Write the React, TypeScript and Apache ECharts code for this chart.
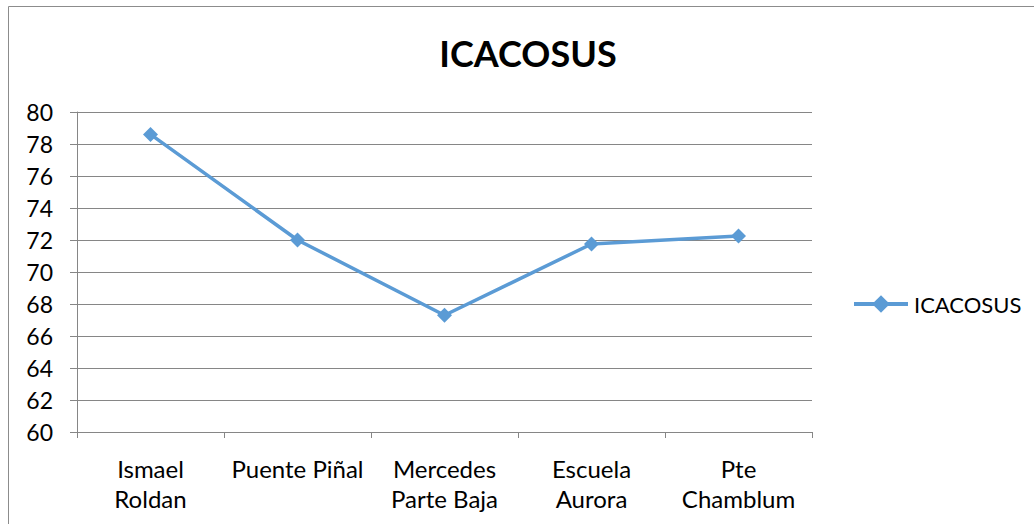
import React, { useEffect, useRef } from "react";
import * as echarts from "echarts";

const categories = ["Ismael\nRoldan", "Puente Piñal", "Mercedes\nParte Baja", "Escuela\nAurora", "Pte\nChamblum"];
const seriesName = "ICACOSUS";
const values = [78.6, 72.0, 67.3, 71.75, 72.25];
const yTicks = { min: 60, max: 80, interval: 2 };

const FONT = "Lato, 'Open Sans', sans-serif";

export default function App() {
  const ref = useRef<HTMLDivElement>(null);
  useEffect(() => {
    const chart = echarts.init(ref.current!, null, { renderer: "svg" });
    chart.setOption({
      animation: false,
      backgroundColor: "#ffffff",
      title: {
        text: "ICACOSUS",
        left: 528,
        textAlign: "center",
        top: 35,
        padding: 0,
        textStyle: { fontFamily: FONT, fontSize: 36, fontWeight: "bold", color: "#000" },
      },
      graphic: [
        {
          type: "rect",
          shape: { x: 8.5, y: 6.5, width: 1100, height: 600 },
          style: { fill: "none", stroke: "#8c8c8c", lineWidth: 1 },
          silent: true,
        },
      ],
      legend: {
        left: 852,
        top: 293,
        padding: 0,
        itemWidth: 54,
        itemHeight: 22,
        itemGap: 5,
        lineStyle: { width: 4 },
        textStyle: { fontFamily: FONT, fontSize: 22, color: "#000", padding: [0, 0, 0, 1] },
        data: [seriesName],
      },
      grid: { left: 77, right: 222, top: 112, bottom: 92, containLabel: false },
      xAxis: {
        type: "category",
        data: categories,
        boundaryGap: true,
        axisLine: { lineStyle: { color: "#868686", width: 1 } },
        axisTick: { show: true, length: 6, lineStyle: { color: "#868686" } },
        axisLabel: {
          fontFamily: FONT,
          fontSize: 24,
          color: "#000",
          margin: 21,
          lineHeight: 30,
          interval: 0,
        },
      },
      yAxis: {
        type: "value",
        min: yTicks.min,
        max: yTicks.max,
        interval: yTicks.interval,
        axisLine: { show: true, lineStyle: { color: "#868686", width: 1 } },
        axisTick: { show: true, length: 7, inside: false, lineStyle: { color: "#868686" } },
        splitLine: { show: true, lineStyle: { color: "#868686", width: 1 } },
        axisLabel: { fontFamily: FONT, fontSize: 23, color: "#000", margin: 24 },
      },
      series: [
        {
          name: seriesName,
          type: "line",
          data: values,
          color: "#5B9BD5",
          lineStyle: { width: 3.5, color: "#5B9BD5" },
          symbol: "diamond",
          symbolSize: 15,
          itemStyle: { color: "#5B9BD5" },
        },
      ],
    });
    return () => chart.dispose();
  }, []);
  return (
    <div
      ref={ref}
      style={{ position: "absolute", left: 0, top: 0, width: 1034, height: 524 }}
    />
  );
}
